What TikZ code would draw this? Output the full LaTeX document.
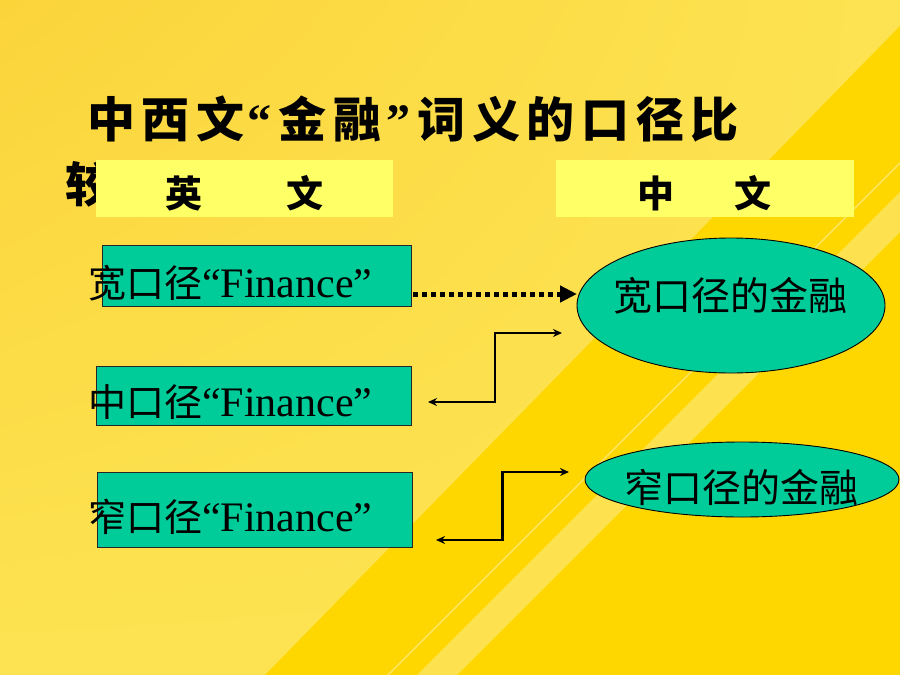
\documentclass[tikz,border=0pt]{standalone}
\usepackage{fontspec}
\setmainfont{Liberation Serif}
\newfontfamily\cjk{Noto Sans CJK SC}
\newfontfamily\cjkt{Noto Sans CJK SC}[LetterSpace=14]
\usetikzlibrary{arrows.meta,shapes.geometric,calc,shadings}
\definecolor{bgA}{HTML}{FBD43A}
\definecolor{bgB}{HTML}{FDE352}
\definecolor{gold}{HTML}{FFD700}
\definecolor{bandc}{HTML}{FDE35E}
\definecolor{boxyellow}{HTML}{FFFF66}
\definecolor{boxgreen}{HTML}{00CC99}
\begin{document}
\begin{tikzpicture}[x=1pt,y=-1pt,
  ybox/.style={rectangle, fill=boxyellow, draw=none, inner sep=0},
  gbox/.style={rectangle, fill=boxgreen, draw=black!85, line width=0.9pt, inner sep=0},
  gell/.style={ellipse, fill=boxgreen, draw=black, line width=0.9pt, inner sep=0},
  titletext/.style={anchor=base west, inner sep=0, font=\cjkt\bfseries\fontsize{48}{52}\selectfont},
  headtext/.style={anchor=base, inner sep=0, font=\cjk\bfseries\fontsize{37}{40}\selectfont},
  boxtext/.style={anchor=base west, inner sep=0},
  elltext/.style={anchor=base, inner sep=0, font=\cjk\fontsize{39}{42}\selectfont},
  dotarrow/.style={line width=5pt, dash pattern=on 4.5pt off 4.5pt, -{Triangle[length=17pt,width=16pt]}},
  elbow/.style={line width=2.3pt, {Stealth[length=9pt,width=8pt]}-{Stealth[length=9pt,width=8pt]}}
]
\useasboundingbox (0,0) rectangle (900,675);
% background
\shade[upper left=bgA, upper right=bgB, lower left=bgB, lower right=bgB] (0,0) rectangle (900,675);
\fill[gold] (900,26) -- (265,675) -- (900,675) -- cycle;
\fill[bandc, opacity=0.85] (417,675) -- (457,675) -- (900,232) -- (900,192) -- cycle;
\draw[bandc, line width=1.5pt] (388,675) -- (900,163);

% title
\node[titletext] (title1) at (87,137) {中西文\hspace{3pt}{\rmfamily\bfseries “}\hspace{7pt}金融\hspace{5pt}{\rmfamily\bfseries ”}\hspace{7pt}词义的口径比};
\node[titletext] (title2) at (65,202) {较};

% headers
\node[ybox, minimum width=297pt, minimum height=57pt] (en) at (244.5,188.5) {};
\node[ybox, minimum width=298pt, minimum height=57pt] (zh) at (705,188.5) {};
\node[headtext] (enlab) at (244.5,207.5) {英\hspace{85pt}文};
\node[headtext] (zhlab) at (704.5,207.5) {中\hspace{60pt}文};

% English boxes
\node[gbox, minimum width=309pt, minimum height=61pt] (box1) at (256.5,275.5) {};
\node[gbox, minimum width=315pt, minimum height=59pt] (box2) at (253.5,395.5) {};
\node[gbox, minimum width=315pt, minimum height=75pt] (box3) at (254.5,509.5) {};
\node[boxtext] (t1) at (88,297) {{\cjk\fontsize{38}{40}\selectfont 宽口径}{\fontsize{42}{44}\selectfont “Finance”}};
\node[boxtext] (t2) at (88,416) {{\cjk\fontsize{38}{40}\selectfont 中口径}{\fontsize{42}{44}\selectfont “Finance”}};
\node[boxtext] (t3) at (88,531) {{\cjk\fontsize{38}{40}\selectfont 窄口径}{\fontsize{42}{44}\selectfont “Finance”}};

% Chinese ellipses
\node[gell, minimum width=308pt, minimum height=135pt] (ell1) at (731,305.5) {};
\node[gell, minimum width=314pt, minimum height=75pt] (ell2) at (742,479.5) {};
\node[elltext] (e1) at (730,310) {宽口径的金融};
\node[elltext] (e2) at (741,502) {窄口径的金融};

% connectors
\coordinate (d1s) at (413,294);
\coordinate (d1e) at (577,294);
\draw[dotarrow] (d1s) -- (d1e);

\coordinate (a2l) at (428,402);
\coordinate (a2r) at (562,333);
\draw[elbow] (a2l) -| ($(a2l)!.5!(a2r)$) |- (a2r);

\coordinate (a3l) at (436,540);
\coordinate (a3r) at (569,472);
\draw[elbow] (a3l) -| ($(a3l)!.5!(a3r)$) |- (a3r);
\end{tikzpicture}
\end{document}
